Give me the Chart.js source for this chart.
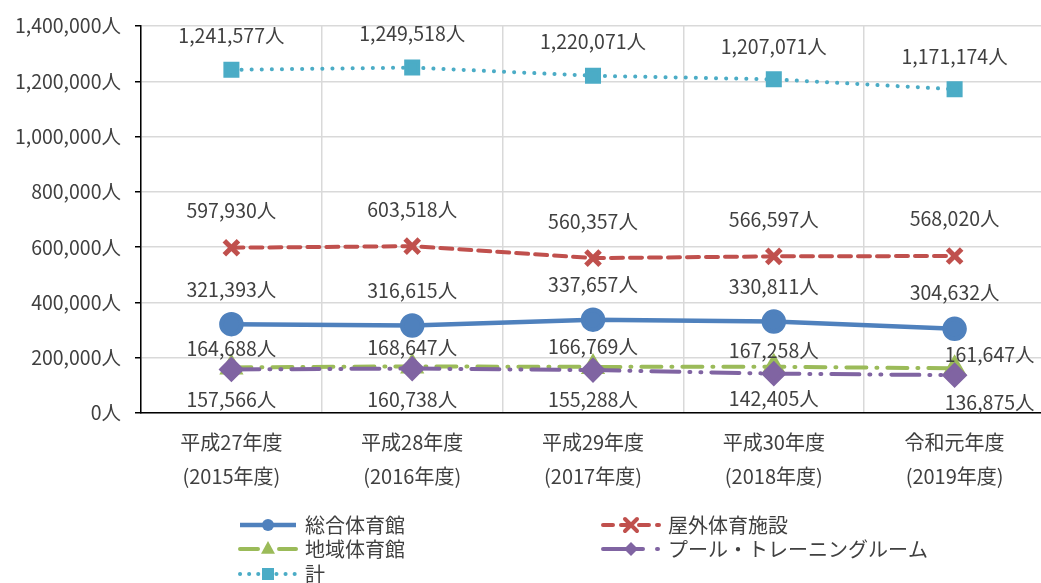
<!DOCTYPE html>
<html lang="ja">
<head>
<meta charset="utf-8">
<script src="https://cdn.jsdelivr.net/npm/chart.js@4/dist/chart.umd.min.js"></script>
<style>
  html, body { margin: 0; padding: 0; background: #fff; overflow: hidden; }
  #wrap { width: 1060px; height: 583px; }
</style>
</head>
<body>
<div id="wrap"><canvas id="chart" width="1060" height="583"></canvas></div>
<script>
// 施設別 利用者数の推移
const YEARS = [
  ['平成27年度', '(2015年度)'],
  ['平成28年度', '(2016年度)'],
  ['平成29年度', '(2017年度)'],
  ['平成30年度', '(2018年度)'],
  ['令和元年度', '(2019年度)']
];
const SOGO = [321393, 316615, 337657, 330811, 304632];     // 総合体育館
const OKUGAI = [597930, 603518, 560357, 566597, 568020];   // 屋外体育施設
const CHIIKI = [164688, 168647, 166769, 167258, 161647];   // 地域体育館
const POOL = [157566, 160738, 155288, 142405, 136875];     // プール・トレーニングルーム
const TOTAL = [1241577, 1249518, 1220071, 1207071, 1171174]; // 計
const Y_MAX = 1400000;
const Y_STEP = 200000;

const FONT = '"Noto Sans CJK JP", "Noto Sans", sans-serif';
const TEXT = '#404040';

const fmt = v => v.toLocaleString('en-US') + '人';

// label placement per dataset (dx, dy from the point)
const LABEL_POS = {
  0: [[0, -35], [0, -35], [0, -35], [0, -35], [0, -36]],
  1: [[0, -37], [0, -37], [0, -37], [0, -37], [0, -37]],
  2: [[0, -19], [0, -19], [0, -20], [0, -16], [35, -14]],
  3: [[0, 30], [0, 31], [0, 30], [0, 25], [35, 27]],
  4: [[0, -34], [0, -34], [0, -34], [0, -33], [0, -33]]
};

const labelPlugin = {
  id: 'valueLabels',
  afterDatasetsDraw(chart) {
    const ctx = chart.ctx;
    ctx.save();
    ctx.font = '19.5px ' + FONT;
    ctx.fillStyle = TEXT;
    ctx.textAlign = 'center';
    ctx.textBaseline = 'middle';
    chart.data.datasets.forEach((ds, di) => {
      const meta = chart.getDatasetMeta(di);
      meta.data.forEach((pt, i) => {
        const off = LABEL_POS[di][i];
        ctx.fillText(fmt(ds.data[i]), pt.x + off[0], pt.y + off[1]);
      });
    });
    ctx.restore();
  }
};

function drawMarker(ctx, style, x, y, r, color, bw) {
  ctx.save();
  ctx.setLineDash([]);
  ctx.fillStyle = color;
  ctx.strokeStyle = color;
  ctx.lineWidth = bw;
  ctx.beginPath();
  if (style === 'circle') {
    ctx.arc(x, y, r, 0, Math.PI * 2);
    ctx.fill();
  } else if (style === 'triangle') {
    ctx.moveTo(x, y - r);
    ctx.lineTo(x + r * 0.87, y + r * 0.6);
    ctx.lineTo(x - r * 0.87, y + r * 0.6);
    ctx.closePath();
    ctx.fill();
  } else if (style === 'rectRot') {
    ctx.moveTo(x, y - r);
    ctx.lineTo(x + r, y);
    ctx.lineTo(x, y + r);
    ctx.lineTo(x - r, y);
    ctx.closePath();
    ctx.fill();
  } else if (style === 'rect') {
    ctx.fillRect(x - r, y - r, 2 * r, 2 * r);
  } else if (style === 'crossRot') {
    ctx.moveTo(x - r, y - r); ctx.lineTo(x + r, y + r);
    ctx.moveTo(x + r, y - r); ctx.lineTo(x - r, y + r);
    ctx.stroke();
  }
  ctx.restore();
}

const LEGEND_SLOTS = [[240, 525], [603, 525], [240, 549], [603, 549], [240, 574]];

const legendPlugin = {
  id: 'sideLegend',
  afterDraw(chart) {
    const ctx = chart.ctx;
    ctx.save();
    chart.data.datasets.forEach((ds, di) => {
      const [x, y] = LEGEND_SLOTS[di];
      const w = 56;
      ctx.strokeStyle = ds.borderColor;
      ctx.lineWidth = ds.borderWidth;
      ctx.lineCap = ds.borderCapStyle || 'butt';
      ctx.setLineDash(ds.legendDash || ds.borderDash || []);
      ctx.beginPath();
      ctx.moveTo(x, y);
      ctx.lineTo(x + w, y);
      ctx.stroke();
      drawMarker(ctx, ds.pointStyle, x + w / 2, y, ds.legendR, ds.borderColor, 4);
      ctx.setLineDash([]);
      ctx.font = '20px ' + FONT;
      ctx.fillStyle = TEXT;
      ctx.textAlign = 'left';
      ctx.textBaseline = 'middle';
      ctx.fillText(ds.label, x + w + 9, y);
    });
    ctx.restore();
  }
};

new Chart(document.getElementById('chart'), {
  type: 'line',
  data: {
    labels: YEARS,
    datasets: [
      {
        label: '総合体育館', data: SOGO,
        borderColor: '#4f81bd', backgroundColor: '#4f81bd',
        borderWidth: 4.5, pointStyle: 'circle', pointRadius: 10, legendR: 6
      },
      {
        label: '屋外体育施設', data: OKUGAI,
        borderColor: '#c0504d', backgroundColor: '#c0504d',
        borderWidth: 4, borderDash: [12, 7], borderCapStyle: 'round',
        pointStyle: 'crossRot', pointRadius: 10, pointBorderWidth: 5, legendR: 6,
        legendDash: [10, 8]
      },
      {
        label: '地域体育館', data: CHIIKI,
        borderColor: '#9bbb59', backgroundColor: '#9bbb59',
        borderWidth: 4, borderDash: [20, 10, 1, 10], borderCapStyle: 'round',
        pointStyle: 'triangle', pointRadius: 10, legendR: 8,
        legendDash: [18, 10, 1, 10]
      },
      {
        label: 'プール・トレーニングルーム', data: POOL,
        borderColor: '#8064a2', backgroundColor: '#8064a2',
        borderWidth: 4, borderDash: [28, 10, 1, 10, 1, 10], borderCapStyle: 'round',
        pointStyle: 'rectRot', pointRadius: 10, legendR: 7, order: -1,
        legendDash: [40, 14, 1, 14]
      },
      {
        label: '計', data: TOTAL,
        borderColor: '#4bacc6', backgroundColor: '#4bacc6',
        borderWidth: 4, borderDash: [0.1, 10], borderCapStyle: 'round',
        pointStyle: 'rect', pointRadius: 8.5, legendR: 6,
        legendDash: [0.1, 9]
      }
    ]
  },
  options: {
    responsive: false,
    animation: false,
    layout: { padding: { top: 26, right: 13, left: 0, bottom: 0 } },
    elements: {
      line: { tension: 0 },
      point: { hoverRadius: 10 }
    },
    plugins: {
      legend: { display: false },
      tooltip: { enabled: false }
    },
    scales: {
      x: {
        offset: true,
        afterFit: s => { s.height = 170; },
        grid: { color: '#d9d9d9', lineWidth: 1.5, offset: true, drawTicks: false },
        border: { color: '#000', width: 1.5 },
        ticks: {
          color: TEXT, padding: 12, maxRotation: 0,
          font: { family: FONT, size: 20, lineHeight: 1.7 }
        }
      },
      y: {
        min: 0, max: Y_MAX,
        afterFit: s => { s.width = 141; },
        grid: { color: '#d9d9d9', lineWidth: 1.5, tickColor: '#000', tickLength: 6 },
        border: { color: '#000', width: 1.5 },
        ticks: {
          stepSize: Y_STEP, color: TEXT, padding: 14,
          font: { family: FONT, size: 19.5 },
          callback: v => fmt(v)
        }
      }
    }
  },
  plugins: [labelPlugin, legendPlugin]
});
</script>
</body>
</html>
